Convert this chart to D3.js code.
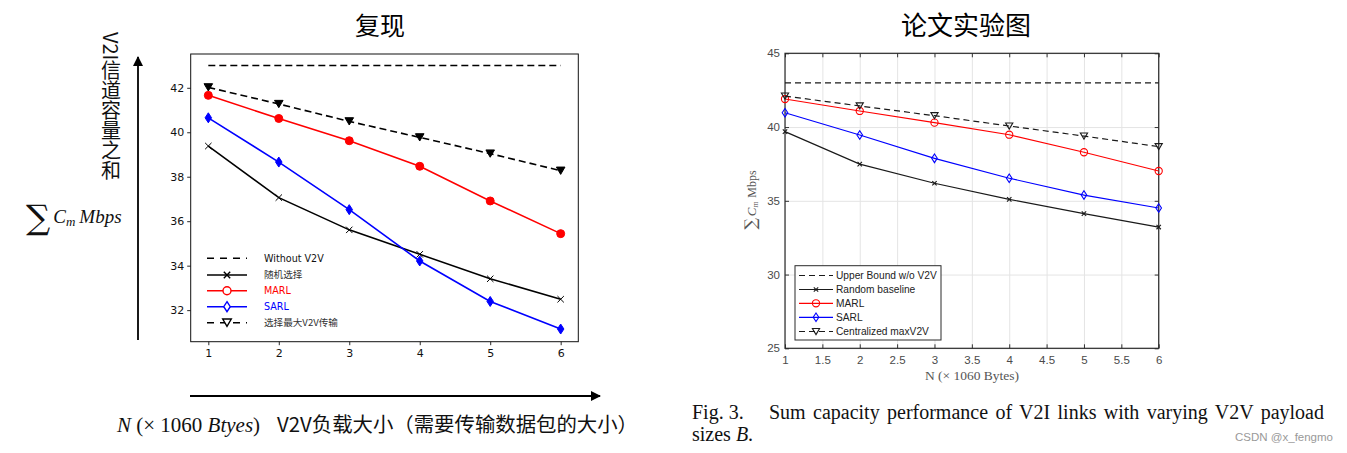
<!DOCTYPE html>
<html><head><meta charset="utf-8">
<script src="https://cdn.jsdelivr.net/npm/d3@7"></script>
<style>body{margin:0;background:#fff} svg{display:block}</style>
</head><body><svg id="c" width="1347" height="453"></svg>
<script>
// ---------- data ----------
const N = [1, 2, 3, 4, 5, 6];
// left chart (复现)
const repWithoutV2V = [43.0, 43.0, 43.0, 43.0, 43.0, 43.0];
const repRandom = [39.38, 37.06, 35.61, 34.51, 33.41, 32.49];
const repMARL = [41.66, 40.62, 39.62, 38.47, 36.91, 35.44];
const repSARL = [40.65, 38.66, 36.52, 34.21, 32.39, 31.15];
const repMaxV2V = [42.02, 41.27, 40.49, 39.77, 39.04, 38.27];
const repYTicks = [32, 34, 36, 38, 40, 42];
const repXTicks = [1, 2, 3, 4, 5, 6];
const repLegend = ["Without V2V", "随机选择", "MARL", "SARL", "选择最大V2V传输"];
// right chart (论文实验图)
const papUpper = [43, 43, 43, 43, 43, 43];
const papRandom = [39.69, 37.49, 36.19, 35.10, 34.13, 33.22];
const papMARL = [41.90, 41.09, 40.30, 39.48, 38.29, 37.02];
const papSARL = [40.97, 39.46, 37.88, 36.53, 35.39, 34.51];
const papMaxV2V = [42.10, 41.43, 40.77, 40.07, 39.39, 38.67];
const papYTicks = [25, 30, 35, 40, 45];
const papXTicks = [1, 1.5, 2, 2.5, 3, 3.5, 4, 4.5, 5, 5.5, 6];
const papLegend = ["Upper Bound w/o V2V", "Random baseline", "MARL", "SARL", "Centralized maxV2V"];

const svg = d3.select("#c");
const CJK = "'Noto Sans CJK SC', 'Noto Sans', sans-serif";

function marker(g, type, x, y, color, fill, s, sw) {
  sw = sw || 1;
  if (type === "x") {
    g.append("path").attr("d", `M${x - s},${y - s}L${x + s},${y + s}M${x - s},${y + s}L${x + s},${y - s}`)
      .attr("stroke", color).attr("stroke-width", sw).attr("fill", "none");
  } else if (type === "o") {
    g.append("circle").attr("cx", x).attr("cy", y).attr("r", s)
      .attr("stroke", color).attr("stroke-width", sw).attr("fill", fill);
  } else if (type === "d") {
    const w = s * 0.65, h = s;
    g.append("path").attr("d", `M${x},${y - h}L${x + w},${y}L${x},${y + h}L${x - w},${y}Z`)
      .attr("stroke", color).attr("stroke-width", sw).attr("fill", fill);
  } else if (type === "v") {
    const w = s, h = s * 0.85;
    g.append("path").attr("d", `M${x - w},${y - h}L${x + w},${y - h}L${x},${y + h}Z`)
      .attr("stroke", color).attr("stroke-width", sw).attr("fill", fill);
  }
}

// ================= LEFT CHART =================
{
  const x = d3.scaleLinear().domain([0.75, 6.25]).range([190.7, 578.3]);
  const y = d3.scaleLinear().domain([30.58, 43.52]).range([341.7, 54]);
  const g = svg.append("g");
  const font = "'DejaVu Sans', sans-serif";

  svg.append("text").attr("x", 380).attr("y", 35).attr("text-anchor", "middle")
    .attr("font-family", CJK).attr("font-size", 25).text("复现");

  const ya = g.append("g").attr("transform", `translate(${x.range()[0]},0)`)
    .call(d3.axisLeft(y).tickValues(repYTicks).tickSize(3.5).tickPadding(3).tickFormat(d3.format("d")));
  const xa = g.append("g").attr("transform", `translate(0,${y.range()[0]})`)
    .call(d3.axisBottom(x).tickValues(repXTicks).tickSize(3.5).tickPadding(4).tickFormat(d3.format("d")));
  [ya, xa].forEach(a => {
    a.select(".domain").remove();
    a.selectAll("text").attr("font-family", font).attr("font-size", 11).attr("fill", "#111");
    a.selectAll("line").attr("stroke", "#111").attr("stroke-width", 0.9);
  });
  g.append("rect").attr("x", x.range()[0]).attr("y", y.range()[1])
    .attr("width", x.range()[1] - x.range()[0]).attr("height", y.range()[0] - y.range()[1])
    .attr("fill", "none").attr("stroke", "#111").attr("stroke-width", 1);

  const series = [
    { v: repWithoutV2V, c: "#000", dash: "7,4", m: null },
    { v: repRandom, c: "#000", dash: null, m: "x" },
    { v: repMARL, c: "#ff0000", dash: null, m: "o" },
    { v: repSARL, c: "#0000ff", dash: null, m: "d" },
    { v: repMaxV2V, c: "#000", dash: "7,4", m: "v" }
  ];
  const msize = { x: 3.2, o: 4, d: 5, v: 4.3 };
  const line = d3.line().x((d, i) => x(N[i])).y(d => y(d));
  series.forEach(s => {
    g.append("path").datum(s.v).attr("d", line).attr("fill", "none")
      .attr("stroke", s.c).attr("stroke-width", 1.6).attr("stroke-dasharray", s.dash);
    if (s.m) s.v.forEach((d, i) => marker(g, s.m, x(N[i]), y(d), s.c, s.m === "x" ? "none" : s.c, msize[s.m], 1));
  });

  const ly = [258.3, 275, 290.7, 306.7, 322.7];
  const lcol = ["#111", "#333", "#ff0000", "#0000ff", "#333"];
  series.forEach((s, i) => {
    g.append("line").attr("x1", 207).attr("x2", 247).attr("y1", ly[i]).attr("y2", ly[i])
      .attr("stroke", s.c).attr("stroke-width", 1.6).attr("stroke-dasharray", s.dash ? "7,6" : null);
    if (s.m) marker(g, s.m, 227, ly[i], s.c, s.m === "x" ? "none" : "#fff", msize[s.m], 1.4);
    g.append("text").attr("x", 264).attr("y", ly[i]).attr("dy", "0.35em")
      .attr("font-family", i === 1 || i === 4 ? CJK : font).attr("font-size", 9.6)
      .attr("fill", lcol[i]).text(repLegend[i]);
  });

  svg.append("defs").append("marker").attr("id", "ah").attr("viewBox", "0 0 10 10")
    .attr("refX", 9).attr("refY", 5).attr("markerWidth", 10).attr("markerHeight", 10)
    .attr("markerUnits", "userSpaceOnUse").attr("orient", "auto")
    .append("path").attr("d", "M0,0L10,5L0,10Z").attr("fill", "#000");
  svg.append("line").attr("x1", 138).attr("y1", 340).attr("x2", 138).attr("y2", 57)
    .attr("stroke", "#000").attr("stroke-width", 1.8).attr("marker-end", "url(#ah)");
  svg.append("line").attr("x1", 190).attr("y1", 396).attr("x2", 600).attr("y2", 396)
    .attr("stroke", "#000").attr("stroke-width", 1.8).attr("marker-end", "url(#ah)");

  svg.append("text").attr("x", 111).attr("y", 32)
    .style("writing-mode", "vertical-rl").style("text-orientation", "mixed")
    .attr("font-family", CJK).attr("font-size", 20).attr("fill", "#111").text("V2I信道容量之和");

  const m = svg.append("text").attr("x", 26).attr("y", 225).attr("font-family", "'Liberation Serif', serif").attr("fill", "#111");
  m.append("tspan").attr("font-size", 34).attr("font-family", "'DejaVu Serif', serif").attr("dy", 4).text("∑");
  m.append("tspan").attr("font-size", 19).attr("font-style", "italic").attr("dx", 3).attr("dy", -6).text("C");
  m.append("tspan").attr("font-size", 13).attr("font-style", "italic").attr("dy", 3).text("m");
  m.append("tspan").attr("font-size", 19).attr("font-style", "italic").attr("dx", 4).attr("dy", -3).text("Mbps");

  const b = svg.append("text").attr("x", 117).attr("y", 432).attr("font-size", 21).attr("fill", "#111")
    .attr("font-family", "'Liberation Serif', serif");
  b.append("tspan").attr("font-style", "italic").text("N");
  b.append("tspan").text(" (× 1060 ");
  b.append("tspan").attr("font-style", "italic").text("Btyes");
  b.append("tspan").text(")");
  svg.append("text").attr("x", 277).attr("y", 432).attr("font-family", CJK).attr("font-size", 20)
    .attr("fill", "#111").attr("textLength", 361).attr("lengthAdjust", "spacingAndGlyphs")
    .text("V2V负载大小（需要传输数据包的大小）");
}

// ================= RIGHT CHART =================
{
  const x = d3.scaleLinear().domain([1, 6]).range([785, 1158.7]);
  const y = d3.scaleLinear().domain([25, 45]).range([348.3, 53.3]);
  const g = svg.append("g");
  const font = "'Liberation Sans', Arial, sans-serif";
  const W = x.range()[1] - x.range()[0], H = y.range()[0] - y.range()[1];

  svg.append("text").attr("x", 966).attr("y", 35).attr("text-anchor", "middle")
    .attr("font-family", CJK).attr("font-size", 26).text("论文实验图");

  g.append("g").attr("transform", `translate(${x.range()[0]},0)`)
    .call(d3.axisLeft(y).tickValues(papYTicks).tickSize(-W).tickFormat(""))
    .call(a => { a.select(".domain").remove(); a.selectAll("line").attr("stroke", "#e4e4e4"); });
  g.append("g").attr("transform", `translate(0,${y.range()[0]})`)
    .call(d3.axisBottom(x).tickValues(papXTicks).tickSize(-H).tickFormat(""))
    .call(a => { a.select(".domain").remove(); a.selectAll("line").attr("stroke", "#e4e4e4"); });

  const ya = g.append("g").attr("transform", `translate(${x.range()[0]},0)`)
    .call(d3.axisLeft(y).tickValues(papYTicks).tickSize(-4).tickPadding(5));
  const xa = g.append("g").attr("transform", `translate(0,${y.range()[0]})`)
    .call(d3.axisBottom(x).tickValues(papXTicks).tickSize(-4).tickPadding(8).tickFormat(d3.format("~g")));
  const ya2 = g.append("g").attr("transform", `translate(${x.range()[1]},0)`)
    .call(d3.axisRight(y).tickValues(papYTicks).tickSize(-4).tickFormat(""));
  const xa2 = g.append("g").attr("transform", `translate(0,${y.range()[1]})`)
    .call(d3.axisTop(x).tickValues(papXTicks).tickSize(-4).tickFormat(""));
  [ya, xa, ya2, xa2].forEach(a => {
    a.select(".domain").remove();
    a.selectAll("text").attr("font-family", font).attr("font-size", 11.5).attr("fill", "#4a4a4a");
    a.selectAll("line").attr("stroke", "#333").attr("stroke-width", 1);
  });
  g.append("rect").attr("x", x.range()[0]).attr("y", y.range()[1]).attr("width", W).attr("height", H)
    .attr("fill", "none").attr("stroke", "#2b2b2b").attr("stroke-width", 1.2);

  const series = [
    { v: papUpper, c: "#1a1a1a", dash: "6,4", m: null },
    { v: papRandom, c: "#1a1a1a", dash: null, m: "x" },
    { v: papMARL, c: "#ff0000", dash: null, m: "o" },
    { v: papSARL, c: "#0000ff", dash: null, m: "d" },
    { v: papMaxV2V, c: "#1a1a1a", dash: "6,4", m: "v" }
  ];
  const msize = { x: 2.2, o: 3.6, d: 4.3, v: 3.6 };
  const line = d3.line().x((d, i) => x(N[i])).y(d => y(d));
  series.forEach(s => {
    g.append("path").datum(s.v).attr("d", line).attr("fill", "none")
      .attr("stroke", s.c).attr("stroke-width", 1.2).attr("stroke-dasharray", s.dash);
    if (s.m) s.v.forEach((d, i) => marker(g, s.m, x(N[i]), y(d), s.c, "none", msize[s.m], 1.1));
  });

  g.append("rect").attr("x", 795).attr("y", 265.7).attr("width", 146).attr("height", 74.3)
    .attr("fill", "#fff").attr("stroke", "#2b2b2b").attr("stroke-width", 1);
  const ly = [275.5, 289.5, 303.3, 317.3, 331.5];
  series.forEach((s, i) => {
    g.append("line").attr("x1", 799).attr("x2", 833).attr("y1", ly[i]).attr("y2", ly[i])
      .attr("stroke", s.c).attr("stroke-width", 1.2).attr("stroke-dasharray", s.dash ? "6,4" : null);
    if (s.m) marker(g, s.m, 816, ly[i], s.c, "none", msize[s.m], 1.1);
    g.append("text").attr("x", 836).attr("y", ly[i]).attr("dy", "0.35em")
      .attr("font-family", font).attr("font-size", 10.2).attr("fill", "#222").text(papLegend[i]);
  });

  svg.append("text").attr("x", 972).attr("y", 380).attr("text-anchor", "middle")
    .attr("font-family", "'Liberation Serif', serif").attr("font-size", 13.5).attr("fill", "#555")
    .text("N (× 1060 Bytes)");
  const yl = svg.append("text").attr("transform", "translate(756,200) rotate(-90)").attr("text-anchor", "middle")
    .attr("font-family", "'Liberation Serif', serif").attr("fill", "#555");
  yl.append("tspan").attr("font-size", 16).attr("font-family", "'DejaVu Serif', serif").text("∑");
  yl.append("tspan").attr("font-size", 13).attr("font-style", "italic").attr("dx", 2).text("C");
  yl.append("tspan").attr("font-size", 8).attr("font-style", "italic").attr("dy", 2).text("m");
  yl.append("tspan").attr("font-size", 12).attr("dx", 4).attr("dy", -2).text("Mbps");

  // caption (justified line via word spacing)
  const capFont = "'Liberation Serif', serif";
  svg.append("text").attr("x", 692).attr("y", 419).attr("font-family", capFont)
    .attr("font-size", 20).attr("fill", "#111").text("Fig. 3.");
  const cap = svg.append("text").attr("x", 769).attr("y", 419).attr("font-family", capFont)
    .attr("font-size", 20).attr("fill", "#111")
    .text("Sum capacity performance of V2I links with varying V2V payload");
  const natural = cap.node().getComputedTextLength();
  const nSpaces = (cap.text().match(/ /g) || []).length;
  cap.style("word-spacing", Math.max(0, (555 - natural) / nSpaces) + "px");
  const cap2 = svg.append("text").attr("x", 692).attr("y", 441).attr("font-family", capFont)
    .attr("font-size", 20).attr("fill", "#111");
  cap2.append("tspan").text("sizes ");
  cap2.append("tspan").attr("font-style", "italic").text("B");
  cap2.append("tspan").text(".");
  svg.append("text").attr("x", 1333).attr("y", 441).attr("text-anchor", "end")
    .attr("font-family", font).attr("font-size", 11.5).attr("fill", "#999").text("CSDN @x_fengmo");
}
</script></body></html>
